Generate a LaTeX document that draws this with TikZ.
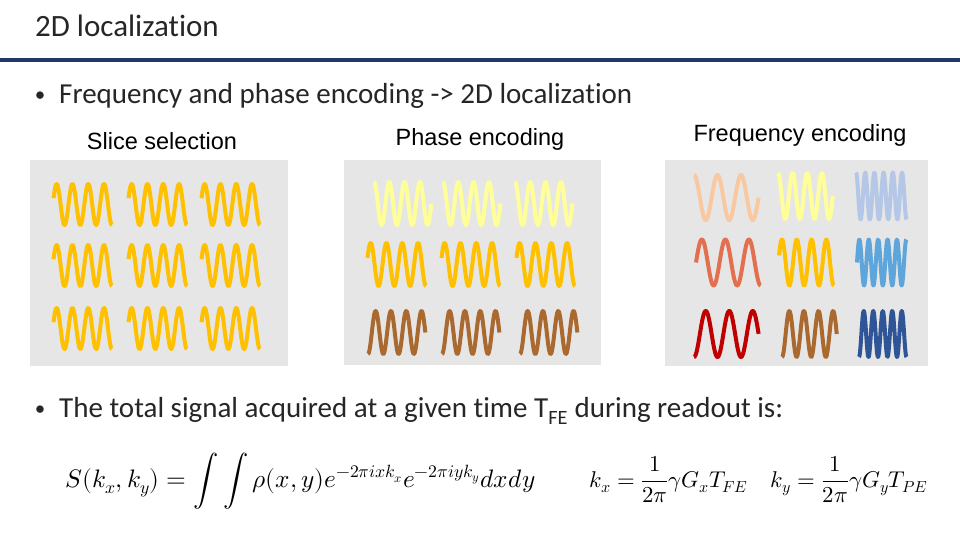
\documentclass[tikz,border=0pt]{standalone}
\usepackage{fontspec}
\usepackage{unicode-math}
\setmainfont{Carlito}[Ligatures={NoCommon}]
\setmathfont{Latin Modern Math}
\newfontfamily\arialf{Liberation Sans}
\definecolor{txt}{HTML}{262626}
\definecolor{navy}{HTML}{1F3864}
\definecolor{panel}{HTML}{E7E6E6}
\definecolor{gold}{HTML}{FFC000}
\definecolor{pale}{HTML}{FFFF99}
\definecolor{brown}{HTML}{A9692F}
\definecolor{peach}{HTML}{F8C8A0}
\definecolor{salmon}{HTML}{E2704F}
\definecolor{dred}{HTML}{C00000}
\definecolor{lblue}{HTML}{B4C7E7}
\definecolor{mblue}{HTML}{5DA5DA}
\definecolor{dblue}{HTML}{2F5597}
\newcommand{\drawwave}[7]{% color, x0, yc, period, amp, t0, t1
  \draw[wavestroke, draw=#1] plot[domain=#6:#7, samples=140, smooth] ({#2+(\x-(#6))*#4}, {#3-#5*sin(360*\x)});
}
\begin{document}
\begin{tikzpicture}[x=1pt, y=-1pt,
  wavestroke/.style={line width=4pt, line join=round},
  bodytext/.style={anchor=base west, inner sep=0, text=txt, font=\fontsize{29}{34}\selectfont},
  bulletdot/.style={anchor=base, inner sep=0, text=txt, font=\fontsize{21}{25}\selectfont},
  paneltitle/.style={anchor=base, inner sep=0, text=black, font=\arialf\fontsize{23.5}{28}\selectfont},
  mathtext/.style={anchor=base west, inner sep=0, text=black}]
\useasboundingbox (0,0) rectangle (960,540);
\fill[white] (0,0) rectangle (960,540);

% title
\node[anchor=base west, inner sep=0, text=txt, font=\fontsize{31}{36}\selectfont] (title) at (35,37) {2D localization};
\draw[navy, line width=4pt] (0,60) -- (960,60);

% bullet 1
\node[bulletdot] (dot1) at (40,102) {•};
\node[bodytext] (b1) at (59,104) {Frequency and phase encoding -> 2D localization};

% panel titles
\node[paneltitle] (lab1) at (162,150) {Slice selection};
\node[paneltitle] (lab2) at (480,146) {Phase encoding};
\node[paneltitle] (lab3) at (800,142) {Frequency encoding};

% panels
\fill[panel] (30,160) rectangle (288,366);
\fill[panel] (344,160) rectangle (601,365);
\fill[panel] (665,160) rectangle (928,366);

% panel 1: slice selection
\foreach \xo in {53.5,128.5,201.5} {
  \foreach \yc in {204.5,265.5,328.5} {
    \drawwave{gold}{\xo}{\yc}{15.8}{20.5}{0.05}{3.75}
  }
}

% panel 2: phase encoding
\drawwave{pale}{374}{203.5}{15.3}{21.5}{0.25}{4.0}
\drawwave{pale}{443}{203.5}{15.3}{21.5}{0.25}{4.0}
\drawwave{pale}{515}{203.5}{15.3}{21.5}{0.25}{4.0}
\drawwave{gold}{367.5}{264.5}{15.8}{21.5}{0.05}{3.75}
\drawwave{gold}{441.5}{264.5}{15.8}{21.5}{0.05}{3.75}
\drawwave{gold}{516.5}{264.5}{15.8}{21.5}{0.05}{3.75}
\drawwave{brown}{368}{332.5}{15.3}{21.5}{-0.25}{3.5}
\drawwave{brown}{442}{332.5}{15.3}{21.5}{-0.25}{3.5}
\drawwave{brown}{520}{332.5}{15.3}{21.5}{-0.25}{3.5}

% panel 3: frequency encoding
\drawwave{peach}{694}{197.5}{23.5}{22.5}{0.25}{3.0}
\drawwave{salmon}{696}{262.5}{23.5}{23}{0}{2.75}
\drawwave{dred}{694}{334}{23.5}{23}{-0.25}{2.5}
\drawwave{pale}{778}{196}{14.6}{23}{0.25}{4.0}
\drawwave{gold}{779}{262.5}{14.8}{23}{0.05}{3.75}
\drawwave{brown}{782}{334}{14.6}{23}{-0.25}{3.5}
\drawwave{lblue}{856}{196}{9.2}{23.5}{0.25}{5.75}
\drawwave{mblue}{857}{262.5}{9.4}{23}{0}{5.25}
\drawwave{dblue}{859}{334}{9.5}{23}{-0.25}{4.75}

% bullet 2
\node[bulletdot] (dot2) at (40,415) {•};
\node[bodytext] (b2) at (59,417) {The total signal acquired at a given time T\textsubscript{FE} during readout is:};

% formulas
\node[mathtext, font=\fontsize{25.3}{30}\selectfont] (f1) at (65,487) {$\displaystyle S(k_x,k_y)=\int\int \rho(x,y)e^{-2\pi i x k_x}e^{-2\pi i y k_y}dxdy$};
\node[mathtext, font=\fontsize{22.8}{27}\selectfont] (f2) at (589,487) {$\displaystyle k_x=\frac{1}{2\pi}\gamma G_x T_{FE}\quad k_y=\frac{1}{2\pi}\gamma G_y T_{PE}$};
\end{tikzpicture}
\end{document}
